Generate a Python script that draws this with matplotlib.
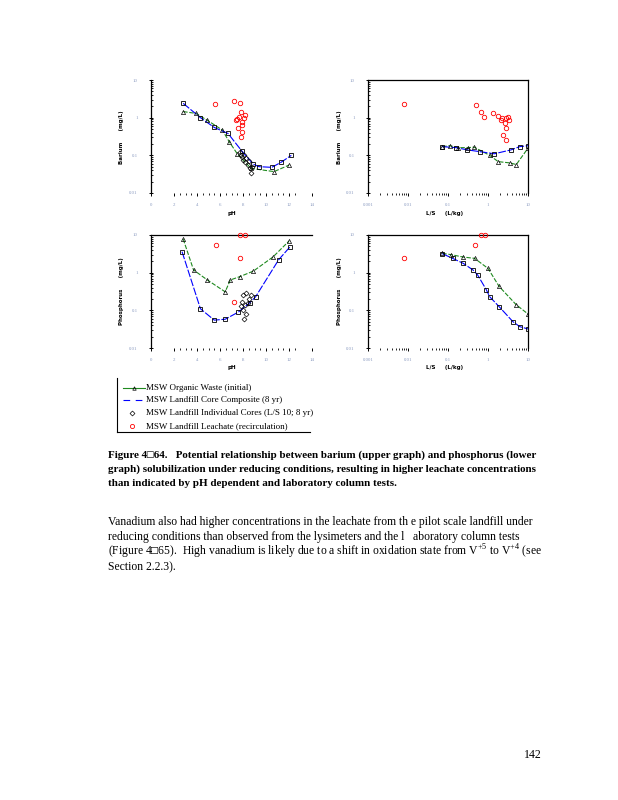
import numpy as np
import matplotlib
matplotlib.use("Agg")
import matplotlib.pyplot as plt
from matplotlib.lines import Line2D

plt.rcParams['font.family'] = ['Liberation Serif', 'DejaVu Sans']
plt.rcParams['mathtext.fontset'] = 'custom'
plt.rcParams['mathtext.rm'] = 'Liberation Serif'

# ---- Barium vs pH (upper left)
ba_ph_org_x = [2.8, 3.9, 4.9, 6.2, 6.8, 7.5, 8.7, 10.7, 12.0]
ba_ph_org_y = [1.45, 1.3, 0.85, 0.47, 0.23, 0.11, 0.045, 0.037, 0.055]
ba_ph_core_x = [2.8, 4.3, 5.5, 6.7, 7.9, 8.9, 9.4, 10.5, 11.3, 12.2]
ba_ph_core_y = [2.4, 1.0, 0.55, 0.38, 0.13, 0.058, 0.05, 0.048, 0.065, 0.1]
ba_ph_ind_x = [7.7, 7.9, 8.0, 8.1, 8.2, 8.3, 8.4, 8.5, 8.6, 8.7, 8.8, 7.8]
ba_ph_ind_y = [0.12, 0.09, 0.075, 0.1, 0.065, 0.085, 0.055, 0.07, 0.045, 0.035, 0.05, 0.1]
ba_ph_lea_x = [5.6, 7.2, 7.75, 7.85, 7.65, 7.4, 8.1, 7.95, 7.6, 7.95, 7.8, 8.2, 7.9, 7.5]
ba_ph_lea_y = [2.3, 2.8, 2.4, 1.4, 1.07, 0.86, 0.96, 0.78, 0.52, 0.42, 0.31, 1.18, 0.62, 0.9]

# ---- Barium vs L/S (upper right)
ba_ls_org_x = [0.072, 0.11, 0.18, 0.32, 0.45, 1.1, 1.8, 3.5, 5.1, 10.0]
ba_ls_org_y = [0.17, 0.18, 0.16, 0.16, 0.165, 0.1, 0.068, 0.063, 0.057, 0.155]
ba_ls_core_x = [0.072, 0.16, 0.3, 0.63, 1.45, 3.8, 6.2, 10.0]
ba_ls_core_y = [0.17, 0.16, 0.14, 0.125, 0.11, 0.14, 0.17, 0.18]
ba_ls_lea_x = [0.0079, 0.49, 0.65, 0.78, 1.33, 1.78, 2.15, 2.75, 3.4, 2.6, 2.9, 2.4, 2.9, 2.2, 3.1]
ba_ls_lea_y = [2.3, 2.17, 1.44, 1.07, 1.35, 1.1, 0.87, 0.98, 0.87, 0.71, 0.52, 0.34, 0.25, 1.0, 1.05]

# ---- Phosphorus vs pH (lower left)
p_ph_org_x = [2.8, 3.7, 4.9, 6.45, 6.9, 7.75, 8.9, 10.6, 12.0]
p_ph_org_y = [7.8, 1.18, 0.64, 0.31, 0.64, 0.79, 1.1, 2.6, 6.9]
p_ph_core_x = [2.7, 4.3, 5.5, 6.45, 7.6, 8.6, 9.1, 11.1, 12.1]
p_ph_core_y = [3.6, 0.11, 0.055, 0.058, 0.09, 0.16, 0.23, 2.2, 4.9]
p_ph_ind_x = [8.0, 8.3, 8.7, 7.9, 8.2, 8.0, 8.3, 8.1, 7.8, 8.5, 8.4]
p_ph_ind_y = [0.26, 0.28, 0.26, 0.17, 0.14, 0.1, 0.08, 0.06, 0.13, 0.2, 0.16]
p_ph_lea_x = [5.65, 7.7, 7.75, 8.2, 7.2]
p_ph_lea_y = [5.4, 2.5, 10.0, 10.0, 0.17]

# ---- Phosphorus vs L/S (lower right)
p_ls_org_x = [0.072, 0.12, 0.24, 0.46, 1.0, 1.9, 5.1, 10.0]
p_ls_org_y = [3.26, 3.0, 2.6, 2.4, 1.3, 0.43, 0.14, 0.08]
p_ls_core_x = [0.072, 0.13, 0.24, 0.42, 0.55, 0.91, 1.1, 1.9, 4.2, 6.2, 10.0]
p_ls_core_y = [3.2, 2.4, 1.77, 1.18, 0.87, 0.35, 0.23, 0.125, 0.05, 0.037, 0.032]
p_ls_lea_x = [0.0079, 0.48, 0.66, 0.83]
p_ls_lea_y = [2.4, 5.4, 10.0, 10.0]

y_ticks = [0.01, 0.1, 1, 10]
y_tick_labels = ['0.01', '0.1', '1', '10']
ph_ticks = [0, 2, 4, 6, 8, 10, 12, 14]
ls_ticks = [0.001, 0.01, 0.1, 1, 10]
ls_tick_labels = ['0.001', '0.01', '0.1', '1', '10']

green = '#1f8a1f'
blue = '#0000ff'
red = '#ff0000'

fig = plt.figure(figsize=(6.18, 8), dpi=100)
W, H = 618, 800


def px_axes(x0, y0, x1, y1):
    return fig.add_axes([x0 / W, 1 - y1 / H, (x1 - x0) / W, (y1 - y0) / H])


def style(ax, spines, logx):
    ax.set_yscale('log')
    ax.set_ylim(0.01, 10)
    ax.set_yticks(y_ticks)
    ax.set_yticklabels(y_tick_labels)
    for s in ['left', 'right', 'top', 'bottom']:
        ax.spines[s].set_visible(s in spines)
        ax.spines[s].set_linewidth(0.9)
    ax.tick_params(axis='y', which='major', direction='inout', length=3, width=0.7,
                   labelsize=3.5, labelcolor='#8a9ac0', pad=8)
    ax.tick_params(axis='y', which='minor', direction='in', length=1.5, width=0.6)
    ax.tick_params(axis='x', which='major', direction='out', length=2, width=0.7,
                   labelsize=3.5, labelcolor='#8a9ac0', pad=5)
    ax.tick_params(axis='x', which='minor', direction='out', length=1.2, width=0.6)
    if logx:
        ax.set_xscale('log')
        ax.set_xlim(0.001, 10)
        ax.set_xticks(ls_ticks)
        ax.set_xticklabels(ls_tick_labels)
    else:
        ax.set_xlim(0, 14)
        ax.set_xticks(ph_ticks)
        ax.set_xticks(np.arange(2, 13, 0.5), minor=True)
    ax.patch.set_alpha(0)


def draw(ax, org_x, org_y, core_x, core_y, ind_x, ind_y, lea_x, lea_y):
    ax.plot(org_x, org_y, color=green, lw=0.8, ls=(0, (4, 1.5)), zorder=2)
    ax.plot(org_x, org_y, ls='none', marker='^', ms=3, mfc='none', mec='black', mew=0.5, zorder=3)
    ax.plot(core_x, core_y, color=blue, lw=0.8, ls=(0, (7, 1.5)), zorder=2)
    ax.plot(core_x, core_y, ls='none', marker='s', ms=3.5, mfc='none', mec='black', mew=0.6, zorder=3)
    if ind_x:
        ax.plot(ind_x, ind_y, ls='none', marker='D', ms=2.5, mfc='none', mec='black', mew=0.5, zorder=3)
    ax.plot(lea_x, lea_y, ls='none', marker='o', ms=3.2, mfc='none', mec=red, mew=0.6,
            zorder=4, clip_on=False)


ax1 = px_axes(151, 80, 312, 193)
style(ax1, ['left'], False)
draw(ax1, ba_ph_org_x, ba_ph_org_y, ba_ph_core_x, ba_ph_core_y,
     ba_ph_ind_x, ba_ph_ind_y, ba_ph_lea_x, ba_ph_lea_y)

ax2 = px_axes(368, 80, 528, 193)
style(ax2, ['left', 'top', 'right'], True)
draw(ax2, ba_ls_org_x, ba_ls_org_y, ba_ls_core_x, ba_ls_core_y,
     [], [], ba_ls_lea_x, ba_ls_lea_y)

ax3 = px_axes(151, 235, 312, 348)
style(ax3, ['left', 'top'], False)
draw(ax3, p_ph_org_x, p_ph_org_y, p_ph_core_x, p_ph_core_y,
     p_ph_ind_x, p_ph_ind_y, p_ph_lea_x, p_ph_lea_y)

ax4 = px_axes(368, 235, 528, 348)
style(ax4, ['left', 'top', 'right'], True)
draw(ax4, p_ls_org_x, p_ls_org_y, p_ls_core_x, p_ls_core_y,
     [], [], p_ls_lea_x, p_ls_lea_y)

# axis titles
lab = dict(fontsize=4, fontweight='bold', family=['DejaVu Sans'])
for y0, name in ((137, 'Barium      (mg/L)'), (291, 'Phosphorus      (mg/L)')):
    fig.text(122 / W, 1 - y0 / H, name, rotation=90, ha='center', va='center', **lab)
    fig.text(339 / W, 1 - y0 / H, name, rotation=90, ha='center', va='center', **lab)
for yl in (213, 368):
    fig.text(232 / W, 1 - yl / H, 'pH', ha='center', va='center', **lab)
    fig.text(445 / W, 1 - yl / H, 'L/S     (L/kg)', ha='center', va='center', **lab)

# legend box
lg = px_axes(117, 378, 310, 432)
lg.set_xlim(0, 193)
lg.set_ylim(54, 0)
lg.set_xticks([])
lg.set_yticks([])
lg.spines['top'].set_visible(False)
lg.spines['right'].set_visible(False)
lg.patch.set_alpha(0)
entries = ['MSW Organic Waste (initial)', 'MSW Landfill Core Composite (8 yr)',
           'MSW Landfill Individual Cores (L/S 10; 8 yr)', 'MSW Landfill Leachate (recirculation)']
rows = [10, 22, 35, 48]
lg.add_line(Line2D([6, 28], [rows[0]] * 2, color=green, lw=0.8))
lg.plot([17], [rows[0]], marker='^', ms=2.5, mfc='none', mec='black', mew=0.5)
lg.add_line(Line2D([6, 28], [rows[1]] * 2, color=blue, lw=0.8, ls=(0, (6, 5))))
lg.plot([15], [rows[2]], marker='D', ms=2.5, mfc='none', mec='black', mew=0.5)
lg.plot([15], [rows[3]], marker='o', ms=3, mfc='none', mec=red, mew=0.6)
for r, t in zip(rows, entries):
    lg.text(29, r, t, fontsize=6.5, va='center', ha='left')

# caption
cap = ['Figure 4\u25a164.   Potential relationship between barium (upper graph) and phosphorus (lower',
       'graph) solubilization under reducing conditions, resulting in higher leachate concentrations',
       'than indicated by pH dependent and laboratory column tests.']
for i, t in enumerate(cap):
    fig.text(108 / W, 1 - (455 + 14 * i) / H, t, fontsize=7.9, fontweight='bold',
             ha='left', va='center')

body = ['Vanadium also had higher concentrations in the leachate from th e pilot scale landfill under',
        'reducing conditions than observed from the lysimeters and the l   aboratory column tests',
        '(Figure 4\u25a165).  High vanadium is likely due to a shift in oxidation state from V$^{+5}$ to V$^{+4}$ (see',
        'Section 2.2.3).']
for i, t in enumerate(body):
    fig.text(108 / W, 1 - (522 + 15 * i) / H, t, fontsize=8.4, ha='left', va='center')

fig.text(533 / W, 1 - 755 / H, '142', fontsize=8.6, ha='center', va='center')

fig.savefig('out.png', dpi=100)
